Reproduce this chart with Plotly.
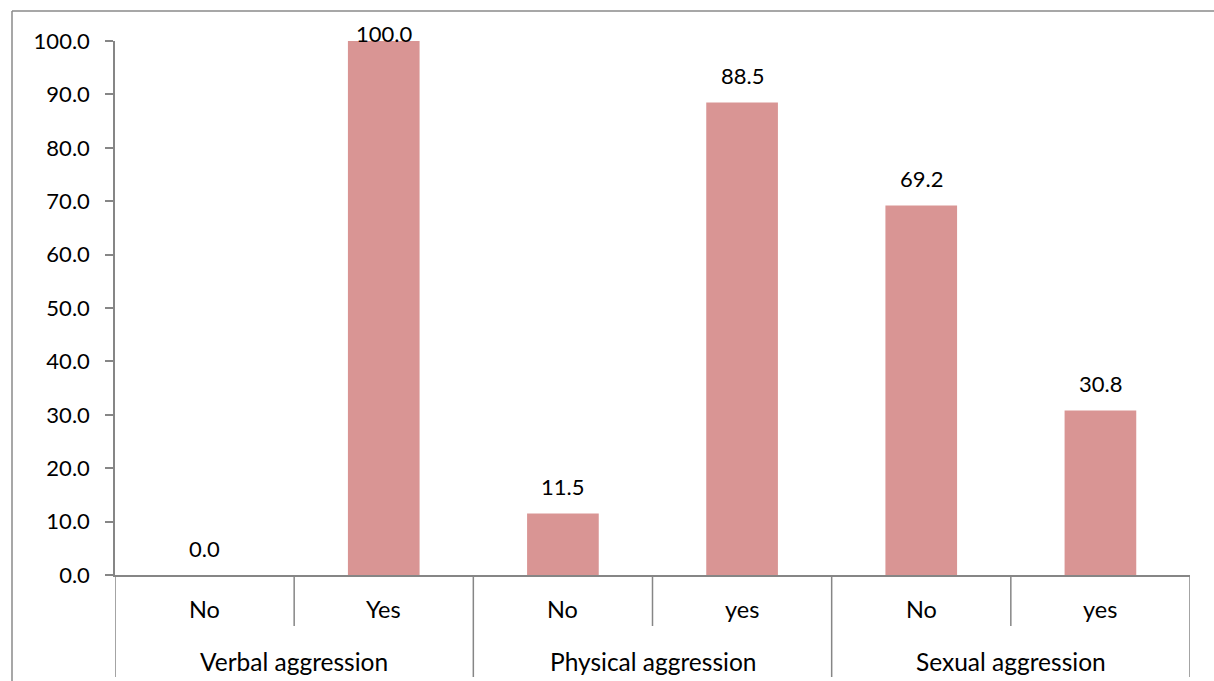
import plotly.graph_objects as go

# Percentage of respondents by aggression type and answer
groups = ["Verbal aggression", "Physical aggression", "Sexual aggression"]
answers = ["No", "Yes", "No", "yes", "No", "yes"]
values = [0.0, 100.0, 11.5, 88.5, 69.2, 30.8]
y_ticks = [0, 10, 20, 30, 40, 50, 60, 70, 80, 90, 100]

BAR_COLOR = "#D99594"
LINE_COLOR = "#868686"
FONT = "Lato"
W, H = 1214, 681
M_L, M_R, M_T, M_B = 115, 24, 41, 106
plot_w = W - M_L - M_R
plot_h = H - M_T - M_B

xs = list(range(len(values)))

fig = go.Figure()
fig.add_trace(go.Bar(
    x=xs, y=values, width=0.4, marker=dict(color=BAR_COLOR, line=dict(width=0)),
    hoverinfo="skip", showlegend=False,
))

annotations = []
# value labels above the bars, pulled down so they stay inside the chart frame
px_per_unit = plot_h / 100.0
for x, v in zip(xs, values):
    room = (100 - v) * px_per_unit + 8
    annotations.append(dict(
        x=x, y=v, xref="x", yref="y", text=f"{v:.1f}", showarrow=False,
        yanchor="middle", yshift=min(27, room),
        font=dict(family=FONT, size=22, color="#000000"),
    ))

# inner category labels
for x, a in zip(xs, answers):
    annotations.append(dict(
        x=x, y=-(609 - (M_T + plot_h)) / plot_h, xref="x", yref="paper", text=a,
        showarrow=False, yanchor="middle", font=dict(family=FONT, size=23.5, color="#000000"),
    ))
# group labels
for g_i, g in enumerate(groups):
    annotations.append(dict(
        x=2 * g_i + 0.5, y=-(661 - (M_T + plot_h)) / plot_h, xref="x", yref="paper", text=g,
        showarrow=False, yanchor="middle", font=dict(family=FONT, size=24.5, color="#000000"),
    ))

shapes = []
short_y = -(626 - (M_T + plot_h)) / plot_h
long_y = -(677 - (M_T + plot_h)) / plot_h
for b in range(len(values) + 1):
    xb = b - 0.5
    y1 = long_y if b % 2 == 0 else short_y
    shapes.append(dict(type="line", xref="x", yref="paper", x0=xb, x1=xb, y0=0, y1=y1,
                       line=dict(color=LINE_COLOR, width=1.5)))

# outer chart frame (top and left edges)
fx = (12 - M_L) / plot_w
fy = 1 + (M_T - 11) / plot_h
shapes.append(dict(type="line", xref="paper", yref="paper", x0=fx, x1=(W - M_L) / plot_w + 0.01,
                   y0=fy, y1=fy, line=dict(color="#8a8a8a", width=1.5)))
shapes.append(dict(type="line", xref="paper", yref="paper", x0=fx, x1=fx,
                   y0=fy, y1=-(H + 2 - (M_T + plot_h)) / plot_h, line=dict(color="#8a8a8a", width=1.5)))

fig.update_layout(
    width=W, height=H,
    margin=dict(l=M_L, r=M_R, t=M_T, b=M_B, pad=0),
    paper_bgcolor="white", plot_bgcolor="white",
    annotations=annotations, shapes=shapes,
    xaxis=dict(range=[-0.5, len(values) - 0.5], showticklabels=False, ticks="",
               showgrid=False, zeroline=False, showline=True, linecolor=LINE_COLOR, linewidth=1.5,
               fixedrange=True),
    yaxis=dict(range=[0, 100], tickvals=y_ticks, ticktext=[f"{t:.1f}" for t in y_ticks],
               ticks="outside", ticklen=8, tickcolor=LINE_COLOR, tickwidth=1.5,
               showgrid=False, zeroline=False, showline=True, linecolor=LINE_COLOR, linewidth=1.5,
               tickfont=dict(family=FONT, size=22, color="#000000"), ticklabelstandoff=11,
               fixedrange=True),
    bargap=0.6,
)

fig.write_html("out.html", config={"displayModeBar": False})
